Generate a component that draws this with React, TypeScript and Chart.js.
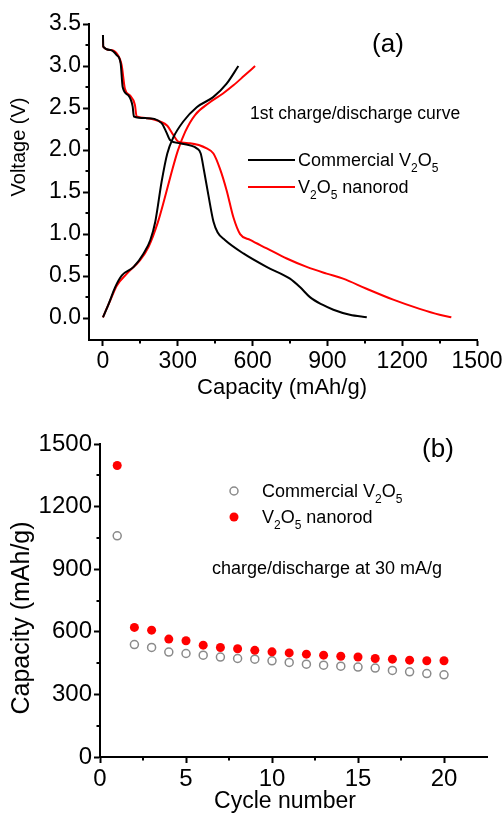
import React, { useEffect, useRef } from 'react';
import { Chart, registerables } from 'chart.js';

Chart.register(...registerables);

// ---------- Panel (a): 1st charge/discharge curves ----------
const commercialDischargeCap = [0, 1, 30, 55, 71, 79, 102, 119, 124, 175, 235, 253, 269, 309, 376, 392, 405, 423, 443, 460, 489, 563, 656, 750, 790, 830, 880, 924, 990, 1058];
const commercialDischargeV = [3.37, 3.23, 3.19, 3.13, 3.03, 2.75, 2.65, 2.52, 2.40, 2.38, 2.32, 2.22, 2.12, 2.08, 2.02, 1.96, 1.76, 1.46, 1.15, 1.02, 0.93, 0.77, 0.61, 0.47, 0.37, 0.25, 0.16, 0.10, 0.04, 0.01];

const nanorodDischargeCap = [0, 1, 30, 55, 75, 88, 108, 128, 135, 175, 229, 258, 282, 302, 349, 416, 443, 469, 496, 523, 550, 590, 657, 737, 817, 897, 963, 1057, 1164, 1270, 1350, 1397];
const nanorodDischargeV = [3.37, 3.23, 3.19, 3.15, 3.01, 2.73, 2.65, 2.54, 2.40, 2.38, 2.34, 2.29, 2.18, 2.10, 2.08, 2.02, 1.96, 1.78, 1.52, 1.20, 1.00, 0.93, 0.83, 0.71, 0.61, 0.53, 0.47, 0.35, 0.22, 0.11, 0.04, 0.01];

const commercialChargeCap = [0, 23, 49, 76, 123, 163, 190, 210, 235, 258, 282, 322, 376, 442, 496, 543];
const commercialChargeV = [0.01, 0.17, 0.37, 0.51, 0.61, 0.77, 0.93, 1.15, 1.62, 1.96, 2.15, 2.34, 2.51, 2.63, 2.79, 3.0];

const nanorodChargeCap = [0, 29, 56, 96, 149, 183, 220, 245, 272, 300, 330, 370, 425, 480, 523, 565, 610];
const nanorodChargeV = [0.01, 0.21, 0.39, 0.53, 0.69, 0.85, 1.14, 1.40, 1.70, 1.99, 2.22, 2.42, 2.56, 2.67, 2.77, 2.88, 3.0];

const capacityTicksA = [0, 300, 600, 900, 1200, 1500];
const capacityMinorA = [150, 450, 750, 1050, 1350];
const voltageTicks = [0, 0.5, 1.0, 1.5, 2.0, 2.5, 3.0, 3.5];
const voltageMinor = [0.25, 0.75, 1.25, 1.75, 2.25, 2.75, 3.25];

// ---------- Panel (b): cycling ----------
const cycles = [1, 2, 3, 4, 5, 6, 7, 8, 9, 10, 11, 12, 13, 14, 15, 16, 17, 18, 19, 20];
const commercialCapacity = [1060, 539, 525, 503, 496, 488, 479, 472, 469, 461, 453, 445, 440, 435, 431, 426, 415, 408, 400, 394];
const nanorodCapacity = [1397, 621, 608, 565, 557, 536, 525, 519, 511, 504, 499, 493, 488, 483, 479, 472, 469, 464, 461, 461];

const cycleTicks = [0, 5, 10, 15, 20];
const cycleMinor = [2.5, 7.5, 12.5, 17.5];
const capacityTicksB = [0, 300, 600, 900, 1200, 1500];
const capacityMinorB = [150, 450, 750, 1050, 1350];

const FONT = "'Liberation Sans', Arial, Helvetica, sans-serif";
const RED = '#ff0000';
const GRAY = '#8a8a8a';

function pts(xs: number[], ys: number[]) {
  return xs.map((x, i) => ({ x, y: ys[i] }));
}

function minorTicksPlugin(minorX: number[], minorY: number[]) {
  return {
    id: 'minorTicks',
    afterDraw(chart: any) {
      const ctx = chart.ctx;
      const xs = chart.scales.x;
      const ys = chart.scales.y;
      const area = chart.chartArea;
      ctx.save();
      ctx.strokeStyle = '#000';
      ctx.lineWidth = 2;
      ctx.beginPath();
      minorX.forEach((v) => {
        const px = Math.round(xs.getPixelForValue(v));
        ctx.moveTo(px, area.bottom);
        ctx.lineTo(px, area.bottom + 3.5);
      });
      minorY.forEach((v) => {
        const py = Math.round(ys.getPixelForValue(v));
        ctx.moveTo(area.left, py);
        ctx.lineTo(area.left - 3.5, py);
      });
      ctx.stroke();
      ctx.restore();
    },
  };
}

type Part = [string, boolean];

function drawParts(ctx: CanvasRenderingContext2D, parts: Part[], x: number, cy: number, size: number) {
  const base = cy + size * 0.36;
  let cx = x;
  ctx.textAlign = 'left';
  ctx.textBaseline = 'alphabetic';
  ctx.fillStyle = '#000';
  parts.forEach(([t, sub]) => {
    if (sub) {
      ctx.font = `${Math.round(size * 0.65)}px ${FONT}`;
      ctx.fillText(t, cx, base + size * 0.32);
    } else {
      ctx.font = `${size}px ${FONT}`;
      ctx.fillText(t, cx, base);
    }
    cx += ctx.measureText(t).width;
  });
}

function centerText(ctx: CanvasRenderingContext2D, t: string, x: number, y: number, size: number, rot = 0) {
  ctx.save();
  ctx.translate(x, y);
  ctx.rotate(rot);
  ctx.font = `${size}px ${FONT}`;
  ctx.fillStyle = '#000';
  ctx.textAlign = 'center';
  ctx.textBaseline = 'middle';
  ctx.fillText(t, 0, 0);
  ctx.restore();
}

function axisCommon(tickSize: number, width: number | null, height: number | null, ticks: number[], fmt: (v: number) => string, min: number, max: number) {
  return {
    type: 'linear' as const,
    min,
    max,
    afterBuildTicks: (s: any) => {
      s.ticks = ticks.map((v) => ({ value: v }));
    },
    afterFit: (s: any) => {
      if (width !== null) s.width = width;
      if (height !== null) s.height = height;
      s.paddingTop = 0;
      s.paddingBottom = 0;
      s.paddingLeft = 0;
      s.paddingRight = 0;
    },
    grid: {
      display: true,
      drawOnChartArea: false,
      drawTicks: true,
      tickLength: 6,
      tickWidth: 2,
      tickColor: '#000',
    },
    border: { display: true, color: '#000', width: 2 },
    ticks: {
      autoSkip: false,
      maxRotation: 0,
      minRotation: 0,
      padding: 2,
      color: '#000',
      font: { family: FONT, size: tickSize },
      callback: (v: any) => fmt(Number(v)),
    },
    title: { display: false },
  };
}

export default function App() {
  const refA = useRef<HTMLCanvasElement>(null);
  const refB = useRef<HTMLCanvasElement>(null);

  useEffect(() => {
    const lineDs = (label: string, xs: number[], ys: number[], color: string) => ({
      label,
      data: pts(xs, ys),
      showLine: true,
      borderColor: color,
      backgroundColor: color,
      borderWidth: 2,
      pointRadius: 0,
      cubicInterpolationMode: 'monotone' as const,
    });

    const textsA = {
      id: 'textsA',
      afterDraw(chart: any) {
        const ctx = chart.ctx as CanvasRenderingContext2D;
        ctx.save();
        centerText(ctx, 'Voltage (V)', 19, 147, 20, -Math.PI / 2);
        centerText(ctx, 'Capacity (mAh/g)', 282, 388, 22);
        centerText(ctx, '(a)', 388, 45, 26);
        drawParts(ctx, [['1st charge/discharge curve', false]], 250, 113, 17.5);
        ctx.lineWidth = 2;
        ctx.strokeStyle = '#000';
        ctx.beginPath();
        ctx.moveTo(248, 160);
        ctx.lineTo(295, 160);
        ctx.stroke();
        ctx.strokeStyle = RED;
        ctx.beginPath();
        ctx.moveTo(248, 187);
        ctx.lineTo(295, 187);
        ctx.stroke();
        drawParts(ctx, [['Commercial V', false], ['2', true], ['O', false], ['5', true]], 298, 160, 18);
        drawParts(ctx, [['V', false], ['2', true], ['O', false], ['5', true], [' nanorod', false]], 298, 187, 18);
        ctx.restore();
      },
    };

    const chartA = new Chart(refA.current as HTMLCanvasElement, {
      type: 'scatter',
      data: {
        datasets: [
          lineDs('Commercial discharge', commercialDischargeCap, commercialDischargeV, '#000'),
          lineDs('Commercial charge', commercialChargeCap, commercialChargeV, '#000'),
          lineDs('Nanorod discharge', nanorodDischargeCap, nanorodDischargeV, RED),
          lineDs('Nanorod charge', nanorodChargeCap, nanorodChargeV, RED),
        ],
      },
      options: {
        responsive: false,
        animation: false,
        devicePixelRatio: 1,
        events: [],
        layout: { padding: { top: 24, right: 27, left: 0, bottom: 0 } },
        plugins: { legend: { display: false }, tooltip: { enabled: false } },
        scales: {
          x: axisCommon(23, null, 60, capacityTicksA, (v) => String(v), -56, 1500) as any,
          y: axisCommon(23, 89, null, voltageTicks, (v) => v.toFixed(1), -0.26, 3.5) as any,
        },
      },
      plugins: [minorTicksPlugin(capacityMinorA, voltageMinor), textsA],
    });

    const textsB = {
      id: 'textsB',
      afterDraw(chart: any) {
        const ctx = chart.ctx as CanvasRenderingContext2D;
        ctx.save();
        centerText(ctx, 'Capacity (mAh/g)', 22, 218, 25, -Math.PI / 2);
        centerText(ctx, 'Cycle number', 285, 402, 23);
        centerText(ctx, '(b)', 438, 50, 26);
        // legend symbols
        ctx.beginPath();
        ctx.arc(234, 91, 4, 0, Math.PI * 2);
        ctx.fillStyle = '#fff';
        ctx.fill();
        ctx.lineWidth = 1.5;
        ctx.strokeStyle = GRAY;
        ctx.stroke();
        ctx.beginPath();
        ctx.arc(234, 117, 4.5, 0, Math.PI * 2);
        ctx.fillStyle = RED;
        ctx.fill();
        drawParts(ctx, [['Commercial V', false], ['2', true], ['O', false], ['5', true]], 262, 91, 18);
        drawParts(ctx, [['V', false], ['2', true], ['O', false], ['5', true], [' nanorod', false]], 262, 117, 18);
        drawParts(ctx, [['charge/discharge at 30 mA/g', false]], 212, 168, 18);
        ctx.restore();
      },
    };

    const chartB = new Chart(refB.current as HTMLCanvasElement, {
      type: 'scatter',
      data: {
        datasets: [
          {
            label: 'V2O5 nanorod',
            data: pts(cycles, nanorodCapacity),
            pointRadius: 4.5,
            pointBackgroundColor: RED,
            pointBorderWidth: 0,
            pointBorderColor: RED,
          },
          {
            label: 'Commercial V2O5',
            data: pts(cycles, commercialCapacity),
            pointRadius: 4,
            pointBackgroundColor: 'rgba(255,255,255,0)',
            pointBorderWidth: 1.5,
            pointBorderColor: GRAY,
          },
        ],
      },
      options: {
        responsive: false,
        animation: false,
        devicePixelRatio: 1,
        events: [],
        layout: { padding: { top: 44, right: 17, left: 0, bottom: 0 } },
        plugins: { legend: { display: false }, tooltip: { enabled: false } },
        scales: {
          x: axisCommon(24, null, 56, cycleTicks, (v) => String(v), 0, 22.5) as any,
          y: axisCommon(24, 100, null, capacityTicksB, (v) => String(v), 0, 1500) as any,
        },
      },
      plugins: [minorTicksPlugin(cycleMinor, capacityMinorB), textsB],
    });

    return () => {
      chartA.destroy();
      chartB.destroy();
    };
  }, []);

  return (
    <div style={{ position: 'absolute', left: 0, top: 0, width: 504, height: 813, background: '#fff' }}>
      <canvas ref={refA} width={504} height={400} style={{ position: 'absolute', left: 0, top: 0 }} />
      <canvas ref={refB} width={504} height={413} style={{ position: 'absolute', left: 0, top: 400 }} />
    </div>
  );
}
